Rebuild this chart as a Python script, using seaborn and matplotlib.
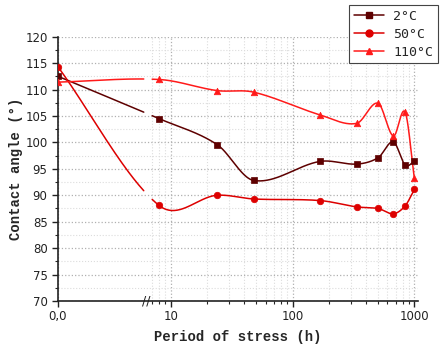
import numpy as np
import matplotlib
matplotlib.use("Agg")
import matplotlib.pyplot as plt
import seaborn as sns
from matplotlib.lines import Line2D

sns.set_style("ticks")
plt.rcParams["font.family"] = ["DejaVu Sans"]

# data
hours = [0, 8, 24, 48, 168, 336, 504, 672, 840, 1000]
angle_2c = [112.5, 104.5, 99.6, 92.8, 96.4, 95.9, 97.1, 100.1, 95.7, 96.4]
angle_50c = [114.3, 88.1, 90.0, 89.3, 89.0, 87.8, 87.5, 86.5, 88.0, 91.1]
angle_110c = [111.4, 111.9, 109.8, 109.5, 105.2, 103.6, 107.4, 101.2, 105.7, 93.2]
series_labels = ["2°C", "50°C", "110°C"]
x_tick_vals = [0, 10, 100, 1000]
x_tick_labels = ["0,0", "10", "100", "1000"]

colors = ["#5e0000", "#dd0000", "#ff1a1a"]
markers = ["s", "o", "^"]

# broken axis: short linear stub 0..TB, then log10 from TB on
U0 = 0.075
TB = 6.5
UB = np.log10(TB)
BREAK_LO, BREAK_HI = 6.3, 7.0


def fwd(t):
    t = np.asarray(t, float)
    return np.where(t < TB, U0 + (UB - U0) * t / TB, np.log10(np.maximum(t, TB)))


def inv(u):
    u = np.asarray(u, float)
    return np.where(u < UB, (u - U0) / (UB - U0) * TB, 10 ** np.maximum(u, UB))


def smooth_curve(x, y, per_seg=60):
    # cardinal (Catmull-Rom style) hermite curve through the points, in screen space
    x = np.asarray(x, float)
    y = np.asarray(y, float)
    n = len(x)
    m = np.empty(n)
    m[1:-1] = (y[2:] - y[:-2]) / (x[2:] - x[:-2])
    m[0] = (y[1] - y[0]) / (x[1] - x[0])
    m[-1] = (y[-1] - y[-2]) / (x[-1] - x[-2])
    xs_all, ys_all = [], []
    for i in range(n - 1):
        h = x[i + 1] - x[i]
        s = np.linspace(0, 1, per_seg, endpoint=(i == n - 2))
        h00 = 2 * s ** 3 - 3 * s ** 2 + 1
        h10 = s ** 3 - 2 * s ** 2 + s
        h01 = -2 * s ** 3 + 3 * s ** 2
        h11 = s ** 3 - s ** 2
        xs_all.append(x[i] + s * h)
        ys_all.append(h00 * y[i] + h10 * h * m[i] + h01 * y[i + 1] + h11 * h * m[i + 1])
    return np.concatenate(xs_all), np.concatenate(ys_all)


fig = plt.figure(figsize=(4.41, 3.49), dpi=100)
ax = fig.add_axes([0.1315, 0.1375, 0.8165, 0.7575])
ax.set_xscale("function", functions=(fwd, inv))

for vals, col, mk in zip([angle_2c, angle_50c, angle_110c], colors, markers):
    u_curve, y_curve = smooth_curve(fwd(hours), vals)
    t_curve = inv(u_curve)
    y_curve = np.where((t_curve > BREAK_LO) & (t_curve < BREAK_HI), np.nan, y_curve)
    ax.plot(t_curve, y_curve, color=col, lw=1.1, zorder=2)
    sns.scatterplot(x=hours, y=vals, marker=mk, color=col, edgecolor=col,
                    s=22, linewidth=0.5, zorder=3, ax=ax, legend=False)

ax.set_xlim(0, 1072)
ax.set_ylim(70, 120)
ax.set_xticks(x_tick_vals)
ax.set_xticklabels(x_tick_labels)
minor_x = [7, 8, 9] + list(range(20, 100, 10)) + list(range(200, 1000, 100))
ax.set_xticks(minor_x, minor=True)
ax.set_yticks(np.arange(70, 121, 5))
ax.set_yticks(np.arange(72.5, 120, 5), minor=True)

ax.grid(which="major", ls=":", color="#b0b0b0", lw=0.9)
ax.grid(which="minor", ls=":", color="#dcdcdc", lw=0.8)
ax.set_axisbelow(True)

sns.despine(ax=ax)
for sp in ["left", "bottom"]:
    ax.spines[sp].set_linewidth(1.2)
    ax.spines[sp].set_color("#222222")
ax.tick_params(which="major", direction="out", length=4, width=1, labelsize=8.5, colors="#222222")
ax.tick_params(which="minor", direction="out", length=2.5, width=0.8)
ax.tick_params(axis="x", pad=2.5)

# break marks on the x axis
ax.text(6.4, 0, "//", transform=ax.get_xaxis_transform(), ha="center", va="center",
        fontsize=9, color="#222222", clip_on=False)

label_font = {"family": "Liberation Mono", "weight": "bold", "size": 10}
ax.set_xlabel("Period of stress (h)", fontdict=label_font, labelpad=5)
ax.set_ylabel("Contact angle (°)", fontdict=label_font, labelpad=1.5)

handles = [Line2D([], [], color=c, marker=m, ms=5, lw=1.1) for c, m in zip(colors, markers)]
leg = fig.legend(handles, series_labels, loc="upper left", bbox_to_anchor=(0.7914, 0.9857),
                 frameon=True, fancybox=False, edgecolor="#444444", framealpha=1,
                 prop={"family": "DejaVu Sans Mono", "size": 9.5}, handlelength=2.3,
                 borderpad=0.35, labelspacing=0.38, handletextpad=0.7, borderaxespad=0)
leg.get_frame().set_linewidth(0.8)

fig.savefig("out.png", dpi=100)
